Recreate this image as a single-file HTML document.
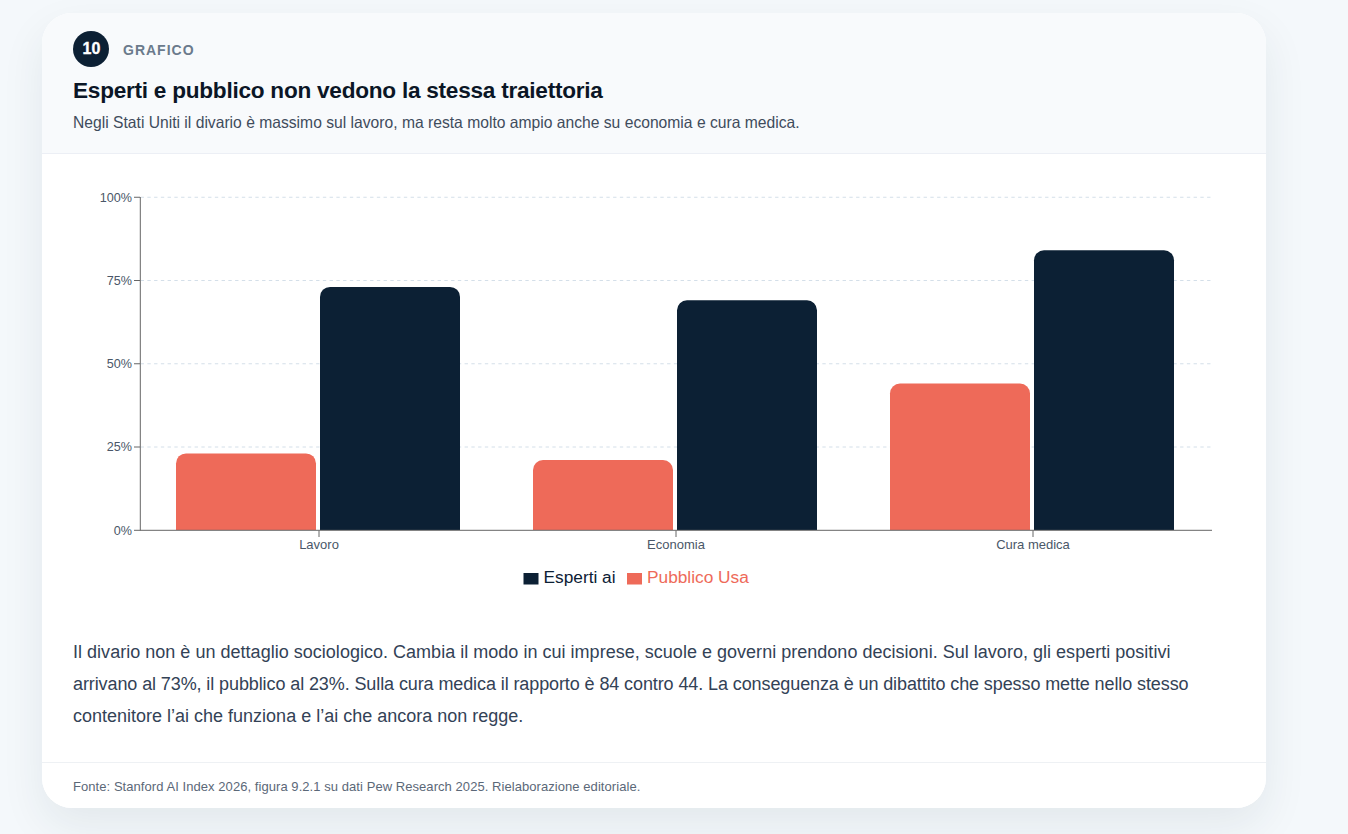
<!DOCTYPE html>
<html lang="it">
<head>
<meta charset="utf-8">
<style>
html,body{margin:0;padding:0;}
body{width:1348px;height:834px;background:#f4f8fb;font-family:"Liberation Sans",sans-serif;overflow:hidden;position:relative;}
.card{position:absolute;left:42px;top:13px;width:1224px;height:795px;border-radius:30px;background:#fff;box-shadow:0 18px 44px rgba(20,55,65,0.08);overflow:hidden;}
.head{position:absolute;left:0;top:0;width:1224px;height:140px;background:#f8fafc;border-bottom:1px solid #eceff5;}
.foot{position:absolute;left:0;top:749px;width:1224px;height:45px;border-top:1px solid #eef1f4;background:#fff;}
.t{position:absolute;white-space:nowrap;}
.badge{position:absolute;left:73px;text-indent:1px;top:31px;width:36px;height:36px;border-radius:50%;background:#0c2034;color:#fff;font-weight:bold;font-size:16px;line-height:36px;text-align:center;-webkit-text-stroke:0.35px #fff;}
.kicker{left:123px;top:42px;font-size:14px;font-weight:bold;letter-spacing:1.0px;color:#6b7a8c;line-height:16px;}
.title{left:73px;top:77px;font-size:22.6px;letter-spacing:-0.25px;font-weight:bold;color:#0b1626;line-height:28px;}
.sub{left:73px;top:113px;font-size:15.66px;color:#3f4c5c;line-height:20px;}
.para{left:73px;font-size:18px;line-height:32px;color:#334256;}
.fonte{left:73px;top:778.6px;font-size:13px;letter-spacing:0.06px;color:#5b6878;line-height:16px;}
</style>
</head>
<body>
<div class="card">
  <div class="head"></div>
  <div class="foot"></div>
</div>
<div class="badge">10</div>
<div class="t kicker">GRAFICO</div>
<div class="t title">Esperti e pubblico non vedono la stessa traiettoria</div>
<div class="t sub">Negli Stati Uniti il divario è massimo sul lavoro, ma resta molto ampio anche su economia e cura medica.</div>

<svg width="1348" height="834" viewBox="0 0 1348 834" style="position:absolute;left:0;top:0;">
  <g stroke="#d4dfe9" stroke-width="1" stroke-dasharray="3.375 3.375">
    <line x1="140.6" y1="197.25" x2="1212" y2="197.25"/>
    <line x1="140.6" y1="280.5" x2="1212" y2="280.5"/>
    <line x1="140.6" y1="363.75" x2="1212" y2="363.75"/>
    <line x1="140.6" y1="447.0" x2="1212" y2="447.0"/>
  </g>
  <path d="M176,530 V463.41 a10,10 0 0 1 10,-10 H306 a10,10 0 0 1 10,10 V530 Z" fill="#ee6a59"/>
  <path d="M533,530 V470.07 a10,10 0 0 1 10,-10 H663 a10,10 0 0 1 10,10 V530 Z" fill="#ee6a59"/>
  <path d="M890,530 V393.48 a10,10 0 0 1 10,-10 H1020 a10,10 0 0 1 10,10 V530 Z" fill="#ee6a59"/>
  <path d="M320,530 V296.91 a10,10 0 0 1 10,-10 H450 a10,10 0 0 1 10,10 V530 Z" fill="#0c2034"/>
  <path d="M677,530 V310.23 a10,10 0 0 1 10,-10 H807 a10,10 0 0 1 10,10 V530 Z" fill="#0c2034"/>
  <path d="M1034,530 V260.28 a10,10 0 0 1 10,-10 H1164 a10,10 0 0 1 10,10 V530 Z" fill="#0c2034"/>
  <g stroke="#666" stroke-width="1">
    <line x1="140.3" y1="197" x2="140.3" y2="530.5"/>
    <line x1="140" y1="530.3" x2="1212" y2="530.3"/>
    <line x1="134" y1="197.25" x2="140" y2="197.25"/>
    <line x1="134" y1="280.5" x2="140" y2="280.5"/>
    <line x1="134" y1="363.75" x2="140" y2="363.75"/>
    <line x1="134" y1="447.0" x2="140" y2="447.0"/>
    <line x1="134" y1="530.3" x2="140" y2="530.3"/>
    <line x1="319" y1="530.5" x2="319" y2="537"/>
    <line x1="676" y1="530.5" x2="676" y2="537"/>
    <line x1="1033" y1="530.5" x2="1033" y2="537"/>
  </g>
  <g font-family="Liberation Sans" font-size="12.6" fill="#4a5768" text-anchor="end">
    <text x="132" y="201.6">100%</text>
    <text x="132" y="284.8">75%</text>
    <text x="132" y="368.1">50%</text>
    <text x="132" y="451.3">25%</text>
    <text x="132" y="534.6">0%</text>
  </g>
  <g font-family="Liberation Sans" font-size="13" fill="#4a5768" text-anchor="middle">
    <text x="319" y="549">Lavoro</text>
    <text x="676" y="549">Economia</text>
    <text x="1033" y="549">Cura medica</text>
  </g>
  <rect x="523.5" y="573" width="15" height="11.5" fill="#0c2034"/>
  <rect x="627" y="573" width="15" height="11.5" fill="#ee6a59"/>
  <g font-family="Liberation Sans" font-size="17.3">
    <text x="543.5" y="583.3" fill="#0c2034">Esperti ai</text>
    <text x="647" y="583.3" fill="#ee6a59">Pubblico Usa</text>
  </g>
</svg>

<div class="t para" style="top:636px;letter-spacing:0.02px;">Il divario non è un dettaglio sociologico. Cambia il modo in cui imprese, scuole e governi prendono decisioni. Sul lavoro, gli esperti positivi</div>
<div class="t para" style="top:668px;letter-spacing:-0.1px;">arrivano al 73%, il pubblico al 23%. Sulla cura medica il rapporto è 84 contro 44. La conseguenza è un dibattito che spesso mette nello stesso</div>
<div class="t para" style="top:700px;">contenitore l’ai che funziona e l’ai che ancora non regge.</div>
<div class="t fonte">Fonte: Stanford AI Index 2026, figura 9.2.1 su dati Pew Research 2025. Rielaborazione editoriale.</div>
</body>
</html>
